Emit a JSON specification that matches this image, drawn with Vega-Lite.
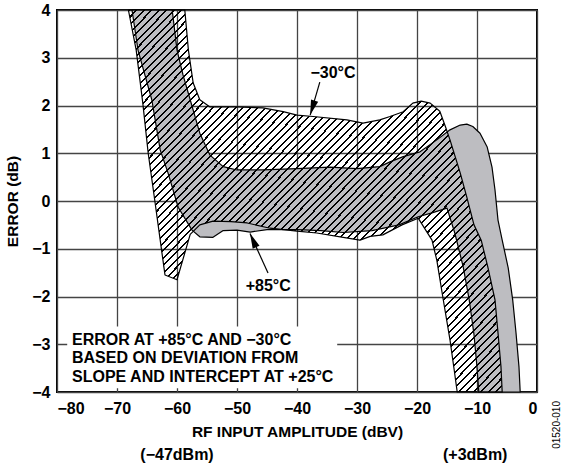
{
  "$schema": "https://vega.github.io/schema/vega-lite/v6.json",
  "width": 480,
  "height": 382,
  "autosize": {"type": "none"},
  "padding": {"left": 57, "top": 10, "right": 31, "bottom": 75},
  "background": "white",
  "config": {
    "view": {"stroke": "black", "strokeWidth": 2},
    "font": "Liberation Sans",
    "axis": {
      "grid": true,
      "gridColor": "#444444",
      "gridWidth": 1.3,
      "domain": false,
      "ticks": false,
      "labelFont": "Liberation Sans",
      "labelFontWeight": "bold",
      "labelFontSize": 16,
      "labelColor": "black",
      "titleFont": "Liberation Sans",
      "titleFontWeight": "bold",
      "titleFontSize": 15.5,
      "titleColor": "black"
    }
  },
  "datasets": {
    "box": [{"x1": -78.3, "x2": -33.3, "y1": -3.92, "y2": -2.63}],
    "p85": [
      {"i": 1, "x": -67.5, "y": 4}, {"i": 2, "x": -66.5, "y": 3.16}, {"i": 3, "x": -64.2, "y": 2.12}, {"i": 4, "x": -62.8, "y": 1.07},
      {"i": 5, "x": -61.5, "y": 0.59}, {"i": 6, "x": -59.8, "y": -0.13}, {"i": 7, "x": -57.5, "y": -0.61}, {"i": 8, "x": -56.2, "y": -0.75},
      {"i": 9, "x": -54, "y": -0.76}, {"i": 10, "x": -52.3, "y": -0.62}, {"i": 11, "x": -50, "y": -0.61}, {"i": 12, "x": -47.8, "y": -0.65},
      {"i": 13, "x": -45, "y": -0.6}, {"i": 14, "x": -40, "y": -0.6}, {"i": 15, "x": -36, "y": -0.62}, {"i": 16, "x": -32.3, "y": -0.66},
      {"i": 17, "x": -27.5, "y": -0.62}, {"i": 18, "x": -23, "y": -0.5}, {"i": 19, "x": -19.8, "y": -0.33}, {"i": 20, "x": -17.5, "y": -0.25},
      {"i": 21, "x": -15, "y": -0.15}, {"i": 22, "x": -13.7, "y": -0.67}, {"i": 23, "x": -12.3, "y": -1.38}, {"i": 24, "x": -11.3, "y": -2.07},
      {"i": 25, "x": -10.5, "y": -2.8}, {"i": 26, "x": -10, "y": -3.48}, {"i": 27, "x": -9.7, "y": -4},
      {"i": 28, "x": -2.8, "y": -4}, {"i": 29, "x": -3, "y": -3.48}, {"i": 30, "x": -3.5, "y": -2.76}, {"i": 31, "x": -4.05, "y": -2.07},
      {"i": 32, "x": -4.8, "y": -1.4}, {"i": 33, "x": -5.8, "y": -0.82}, {"i": 34, "x": -6.5, "y": -0.4}, {"i": 35, "x": -7, "y": 0.23},
      {"i": 36, "x": -7.5, "y": 0.71}, {"i": 37, "x": -8.3, "y": 1.13}, {"i": 38, "x": -9.5, "y": 1.42}, {"i": 39, "x": -10.7, "y": 1.56},
      {"i": 40, "x": -11.7, "y": 1.61}, {"i": 41, "x": -12.8, "y": 1.59}, {"i": 42, "x": -14.5, "y": 1.49}, {"i": 43, "x": -16.7, "y": 1.28},
      {"i": 44, "x": -19.5, "y": 1.03}, {"i": 45, "x": -22.3, "y": 0.93}, {"i": 46, "x": -24.5, "y": 0.82}, {"i": 47, "x": -26.2, "y": 0.72},
      {"i": 48, "x": -30, "y": 0.68}, {"i": 49, "x": -34.5, "y": 0.71}, {"i": 50, "x": -40, "y": 0.68}, {"i": 51, "x": -45.7, "y": 0.65},
      {"i": 52, "x": -50, "y": 0.65}, {"i": 53, "x": -52.3, "y": 0.72}, {"i": 54, "x": -54.5, "y": 0.96}, {"i": 55, "x": -56.2, "y": 1.42},
      {"i": 56, "x": -57.8, "y": 2.12}, {"i": 57, "x": -59, "y": 2.64}, {"i": 58, "x": -60, "y": 3.16}, {"i": 59, "x": -60.8, "y": 4},
      {"i": 60, "x": -67.5, "y": 4}
    ],
    "p30": [
      {"i": 1, "x": -68.1, "y": 4}, {"i": 2, "x": -66.8, "y": 3.16}, {"i": 3, "x": -65.7, "y": 2.05}, {"i": 4, "x": -64.8, "y": 1.0},
      {"i": 5, "x": -63.8, "y": 0.1}, {"i": 6, "x": -62.8, "y": -0.82}, {"i": 7, "x": -62.0, "y": -1.55}, {"i": 8, "x": -60.0, "y": -1.65},
      {"i": 9, "x": -57.8, "y": -0.7}, {"i": 10, "x": -56.2, "y": -0.5}, {"i": 11, "x": -54, "y": -0.42}, {"i": 12, "x": -51, "y": -0.43},
      {"i": 13, "x": -48.3, "y": -0.46}, {"i": 14, "x": -44.5, "y": -0.57}, {"i": 15, "x": -40, "y": -0.63}, {"i": 16, "x": -36.7, "y": -0.67},
      {"i": 17, "x": -32.3, "y": -0.76}, {"i": 18, "x": -29.5, "y": -0.82}, {"i": 19, "x": -27.8, "y": -0.74}, {"i": 20, "x": -25.7, "y": -0.71},
      {"i": 21, "x": -22.5, "y": -0.5}, {"i": 22, "x": -19.8, "y": -0.36}, {"i": 23, "x": -17.5, "y": -0.82}, {"i": 24, "x": -16.7, "y": -1.24},
      {"i": 25, "x": -15.7, "y": -2.01}, {"i": 26, "x": -14.5, "y": -2.91}, {"i": 27, "x": -13.8, "y": -3.54}, {"i": 28, "x": -13.3, "y": -4},
      {"i": 29, "x": -5.8, "y": -4}, {"i": 30, "x": -6, "y": -3.48}, {"i": 31, "x": -6.5, "y": -2.76}, {"i": 32, "x": -7, "y": -2.07},
      {"i": 33, "x": -8.2, "y": -1.38}, {"i": 34, "x": -9.3, "y": -0.82}, {"i": 35, "x": -10.5, "y": -0.5}, {"i": 36, "x": -11.7, "y": 0.08},
      {"i": 37, "x": -12.8, "y": 0.59}, {"i": 38, "x": -14.5, "y": 1.28}, {"i": 39, "x": -15.3, "y": 1.57}, {"i": 40, "x": -16.2, "y": 1.88},
      {"i": 41, "x": -17.8, "y": 2.05}, {"i": 42, "x": -19.3, "y": 2.09}, {"i": 43, "x": -20.7, "y": 2.05}, {"i": 44, "x": -22.3, "y": 1.87},
      {"i": 45, "x": -24.5, "y": 1.77}, {"i": 46, "x": -26.2, "y": 1.7}, {"i": 47, "x": -29, "y": 1.63}, {"i": 48, "x": -31.7, "y": 1.7},
      {"i": 49, "x": -37.3, "y": 1.77}, {"i": 50, "x": -40, "y": 1.8}, {"i": 51, "x": -42.3, "y": 1.87}, {"i": 52, "x": -45.7, "y": 1.95},
      {"i": 53, "x": -50, "y": 1.97}, {"i": 54, "x": -54.5, "y": 1.97}, {"i": 55, "x": -56.2, "y": 2.12}, {"i": 56, "x": -57.3, "y": 2.47},
      {"i": 57, "x": -58.1, "y": 3.16}, {"i": 58, "x": -58.7, "y": 4}, {"i": 59, "x": -68.1, "y": 4}
    ],
    "arrows": [
      {"label": "-30", "x": -36.2, "y": 2.49, "x2": -37.8, "y2": 1.8, "angle": 197},
      {"label": "+85", "x": -44.83, "y": -1.51, "x2": -47.83, "y2": -0.68, "angle": 336}
    ],
    "notes": [
      {"text": "−30°C", "x": -34, "y": 2.68},
      {"text": "+85°C", "x": -44.8, "y": -1.78},
      {"text": "(−47dBm)", "x": -60, "y": -5.32},
      {"text": "(+3dBm)", "x": -10.3, "y": -5.32}
    ],
    "boxtext": [
      {"text": "ERROR AT +85°C AND −30°C", "x": -77.5, "y": -2.91},
      {"text": "BASED ON DEVIATION FROM", "x": -77.5, "y": -3.29},
      {"text": "SLOPE AND INTERCEPT AT +25°C", "x": -77.5, "y": -3.68}
    ],
    "code": [{"text": "01520-010", "x": 3.33, "y": -4.69}]
  },
  "layer": [
    {
      "data": {"name": "box"},
      "mark": {"type": "rect", "fill": "white", "stroke": null},
      "encoding": {
        "x": {"field": "x1", "type": "quantitative", "scale": {"domain": [-80, 0], "nice": false, "zero": false},
              "axis": {"values": [-80, -70, -60, -50, -40, -30, -20, -10, 0], "title": "RF INPUT AMPLITUDE (dBV)", "labelPadding": 8, "titlePadding": 8}},
        "x2": {"field": "x2"},
        "y": {"field": "y1", "type": "quantitative", "scale": {"domain": [-4, 4], "nice": false, "zero": false},
              "axis": {"values": [-4, -3, -2, -1, 0, 1, 2, 3, 4], "title": "ERROR (dB)", "labelPadding": 7, "titlePadding": 11}},
        "y2": {"field": "y2"}
      }
    },
    {
      "data": {"name": "p85"},
      "mark": {"type": "line", "fill": "#bdbdc1", "stroke": "black", "strokeWidth": 1.2, "strokeJoin": "round"},
      "encoding": {
        "x": {"field": "x", "type": "quantitative"},
        "y": {"field": "y", "type": "quantitative"},
        "order": {"field": "i", "type": "quantitative"}
      }
    },
    {
      "data": {"name": "p30"},
      "mark": {
        "type": "line", "stroke": "black", "strokeWidth": 1.2, "strokeJoin": "round",
        "fill": {
          "gradient": "linear", "x1": 0, "y1": 0, "x2": 1, "y2": 1,
          "stops": [
{"offset":0,"color":"black"},{"offset":0.0027,"color":"black"},{"offset":0.0027,"color":"transparent"},{"offset":0.01,"color":"transparent"},
{"offset":0.01,"color":"black"},{"offset":0.0127,"color":"black"},{"offset":0.0127,"color":"transparent"},{"offset":0.02,"color":"transparent"},
{"offset":0.02,"color":"black"},{"offset":0.0227,"color":"black"},{"offset":0.0227,"color":"transparent"},{"offset":0.03,"color":"transparent"},
{"offset":0.03,"color":"black"},{"offset":0.0327,"color":"black"},{"offset":0.0327,"color":"transparent"},{"offset":0.04,"color":"transparent"},
{"offset":0.04,"color":"black"},{"offset":0.0427,"color":"black"},{"offset":0.0427,"color":"transparent"},{"offset":0.05,"color":"transparent"},
{"offset":0.05,"color":"black"},{"offset":0.0527,"color":"black"},{"offset":0.0527,"color":"transparent"},{"offset":0.06,"color":"transparent"},
{"offset":0.06,"color":"black"},{"offset":0.0627,"color":"black"},{"offset":0.0627,"color":"transparent"},{"offset":0.07,"color":"transparent"},
{"offset":0.07,"color":"black"},{"offset":0.0727,"color":"black"},{"offset":0.0727,"color":"transparent"},{"offset":0.08,"color":"transparent"},
{"offset":0.08,"color":"black"},{"offset":0.0827,"color":"black"},{"offset":0.0827,"color":"transparent"},{"offset":0.09,"color":"transparent"},
{"offset":0.09,"color":"black"},{"offset":0.0927,"color":"black"},{"offset":0.0927,"color":"transparent"},{"offset":0.1,"color":"transparent"},
{"offset":0.1,"color":"black"},{"offset":0.1027,"color":"black"},{"offset":0.1027,"color":"transparent"},{"offset":0.11,"color":"transparent"},
{"offset":0.11,"color":"black"},{"offset":0.1127,"color":"black"},{"offset":0.1127,"color":"transparent"},{"offset":0.12,"color":"transparent"},
{"offset":0.12,"color":"black"},{"offset":0.1227,"color":"black"},{"offset":0.1227,"color":"transparent"},{"offset":0.13,"color":"transparent"},
{"offset":0.13,"color":"black"},{"offset":0.1327,"color":"black"},{"offset":0.1327,"color":"transparent"},{"offset":0.14,"color":"transparent"},
{"offset":0.14,"color":"black"},{"offset":0.1427,"color":"black"},{"offset":0.1427,"color":"transparent"},{"offset":0.15,"color":"transparent"},
{"offset":0.15,"color":"black"},{"offset":0.1527,"color":"black"},{"offset":0.1527,"color":"transparent"},{"offset":0.16,"color":"transparent"},
{"offset":0.16,"color":"black"},{"offset":0.1627,"color":"black"},{"offset":0.1627,"color":"transparent"},{"offset":0.17,"color":"transparent"},
{"offset":0.17,"color":"black"},{"offset":0.1727,"color":"black"},{"offset":0.1727,"color":"transparent"},{"offset":0.18,"color":"transparent"},
{"offset":0.18,"color":"black"},{"offset":0.1827,"color":"black"},{"offset":0.1827,"color":"transparent"},{"offset":0.19,"color":"transparent"},
{"offset":0.19,"color":"black"},{"offset":0.1927,"color":"black"},{"offset":0.1927,"color":"transparent"},{"offset":0.2,"color":"transparent"},
{"offset":0.2,"color":"black"},{"offset":0.2027,"color":"black"},{"offset":0.2027,"color":"transparent"},{"offset":0.21,"color":"transparent"},
{"offset":0.21,"color":"black"},{"offset":0.2127,"color":"black"},{"offset":0.2127,"color":"transparent"},{"offset":0.22,"color":"transparent"},
{"offset":0.22,"color":"black"},{"offset":0.2227,"color":"black"},{"offset":0.2227,"color":"transparent"},{"offset":0.23,"color":"transparent"},
{"offset":0.23,"color":"black"},{"offset":0.2327,"color":"black"},{"offset":0.2327,"color":"transparent"},{"offset":0.24,"color":"transparent"},
{"offset":0.24,"color":"black"},{"offset":0.2427,"color":"black"},{"offset":0.2427,"color":"transparent"},{"offset":0.25,"color":"transparent"},
{"offset":0.25,"color":"black"},{"offset":0.2527,"color":"black"},{"offset":0.2527,"color":"transparent"},{"offset":0.26,"color":"transparent"},
{"offset":0.26,"color":"black"},{"offset":0.2627,"color":"black"},{"offset":0.2627,"color":"transparent"},{"offset":0.27,"color":"transparent"},
{"offset":0.27,"color":"black"},{"offset":0.2727,"color":"black"},{"offset":0.2727,"color":"transparent"},{"offset":0.28,"color":"transparent"},
{"offset":0.28,"color":"black"},{"offset":0.2827,"color":"black"},{"offset":0.2827,"color":"transparent"},{"offset":0.29,"color":"transparent"},
{"offset":0.29,"color":"black"},{"offset":0.2927,"color":"black"},{"offset":0.2927,"color":"transparent"},{"offset":0.3,"color":"transparent"},
{"offset":0.3,"color":"black"},{"offset":0.3027,"color":"black"},{"offset":0.3027,"color":"transparent"},{"offset":0.31,"color":"transparent"},
{"offset":0.31,"color":"black"},{"offset":0.3127,"color":"black"},{"offset":0.3127,"color":"transparent"},{"offset":0.32,"color":"transparent"},
{"offset":0.32,"color":"black"},{"offset":0.3227,"color":"black"},{"offset":0.3227,"color":"transparent"},{"offset":0.33,"color":"transparent"},
{"offset":0.33,"color":"black"},{"offset":0.3327,"color":"black"},{"offset":0.3327,"color":"transparent"},{"offset":0.34,"color":"transparent"},
{"offset":0.34,"color":"black"},{"offset":0.3427,"color":"black"},{"offset":0.3427,"color":"transparent"},{"offset":0.35,"color":"transparent"},
{"offset":0.35,"color":"black"},{"offset":0.3527,"color":"black"},{"offset":0.3527,"color":"transparent"},{"offset":0.36,"color":"transparent"},
{"offset":0.36,"color":"black"},{"offset":0.3627,"color":"black"},{"offset":0.3627,"color":"transparent"},{"offset":0.37,"color":"transparent"},
{"offset":0.37,"color":"black"},{"offset":0.3727,"color":"black"},{"offset":0.3727,"color":"transparent"},{"offset":0.38,"color":"transparent"},
{"offset":0.38,"color":"black"},{"offset":0.3827,"color":"black"},{"offset":0.3827,"color":"transparent"},{"offset":0.39,"color":"transparent"},
{"offset":0.39,"color":"black"},{"offset":0.3927,"color":"black"},{"offset":0.3927,"color":"transparent"},{"offset":0.4,"color":"transparent"},
{"offset":0.4,"color":"black"},{"offset":0.4027,"color":"black"},{"offset":0.4027,"color":"transparent"},{"offset":0.41,"color":"transparent"},
{"offset":0.41,"color":"black"},{"offset":0.4127,"color":"black"},{"offset":0.4127,"color":"transparent"},{"offset":0.42,"color":"transparent"},
{"offset":0.42,"color":"black"},{"offset":0.4227,"color":"black"},{"offset":0.4227,"color":"transparent"},{"offset":0.43,"color":"transparent"},
{"offset":0.43,"color":"black"},{"offset":0.4327,"color":"black"},{"offset":0.4327,"color":"transparent"},{"offset":0.44,"color":"transparent"},
{"offset":0.44,"color":"black"},{"offset":0.4427,"color":"black"},{"offset":0.4427,"color":"transparent"},{"offset":0.45,"color":"transparent"},
{"offset":0.45,"color":"black"},{"offset":0.4527,"color":"black"},{"offset":0.4527,"color":"transparent"},{"offset":0.46,"color":"transparent"},
{"offset":0.46,"color":"black"},{"offset":0.4627,"color":"black"},{"offset":0.4627,"color":"transparent"},{"offset":0.47,"color":"transparent"},
{"offset":0.47,"color":"black"},{"offset":0.4727,"color":"black"},{"offset":0.4727,"color":"transparent"},{"offset":0.48,"color":"transparent"},
{"offset":0.48,"color":"black"},{"offset":0.4827,"color":"black"},{"offset":0.4827,"color":"transparent"},{"offset":0.49,"color":"transparent"},
{"offset":0.49,"color":"black"},{"offset":0.4927,"color":"black"},{"offset":0.4927,"color":"transparent"},{"offset":0.5,"color":"transparent"},
{"offset":0.5,"color":"black"},{"offset":0.5027,"color":"black"},{"offset":0.5027,"color":"transparent"},{"offset":0.51,"color":"transparent"},
{"offset":0.51,"color":"black"},{"offset":0.5127,"color":"black"},{"offset":0.5127,"color":"transparent"},{"offset":0.52,"color":"transparent"},
{"offset":0.52,"color":"black"},{"offset":0.5227,"color":"black"},{"offset":0.5227,"color":"transparent"},{"offset":0.53,"color":"transparent"},
{"offset":0.53,"color":"black"},{"offset":0.5327,"color":"black"},{"offset":0.5327,"color":"transparent"},{"offset":0.54,"color":"transparent"},
{"offset":0.54,"color":"black"},{"offset":0.5427,"color":"black"},{"offset":0.5427,"color":"transparent"},{"offset":0.55,"color":"transparent"},
{"offset":0.55,"color":"black"},{"offset":0.5527,"color":"black"},{"offset":0.5527,"color":"transparent"},{"offset":0.56,"color":"transparent"},
{"offset":0.56,"color":"black"},{"offset":0.5627,"color":"black"},{"offset":0.5627,"color":"transparent"},{"offset":0.57,"color":"transparent"},
{"offset":0.57,"color":"black"},{"offset":0.5727,"color":"black"},{"offset":0.5727,"color":"transparent"},{"offset":0.58,"color":"transparent"},
{"offset":0.58,"color":"black"},{"offset":0.5827,"color":"black"},{"offset":0.5827,"color":"transparent"},{"offset":0.59,"color":"transparent"},
{"offset":0.59,"color":"black"},{"offset":0.5927,"color":"black"},{"offset":0.5927,"color":"transparent"},{"offset":0.6,"color":"transparent"},
{"offset":0.6,"color":"black"},{"offset":0.6027,"color":"black"},{"offset":0.6027,"color":"transparent"},{"offset":0.61,"color":"transparent"},
{"offset":0.61,"color":"black"},{"offset":0.6127,"color":"black"},{"offset":0.6127,"color":"transparent"},{"offset":0.62,"color":"transparent"},
{"offset":0.62,"color":"black"},{"offset":0.6227,"color":"black"},{"offset":0.6227,"color":"transparent"},{"offset":0.63,"color":"transparent"},
{"offset":0.63,"color":"black"},{"offset":0.6327,"color":"black"},{"offset":0.6327,"color":"transparent"},{"offset":0.64,"color":"transparent"},
{"offset":0.64,"color":"black"},{"offset":0.6427,"color":"black"},{"offset":0.6427,"color":"transparent"},{"offset":0.65,"color":"transparent"},
{"offset":0.65,"color":"black"},{"offset":0.6527,"color":"black"},{"offset":0.6527,"color":"transparent"},{"offset":0.66,"color":"transparent"},
{"offset":0.66,"color":"black"},{"offset":0.6627,"color":"black"},{"offset":0.6627,"color":"transparent"},{"offset":0.67,"color":"transparent"},
{"offset":0.67,"color":"black"},{"offset":0.6727,"color":"black"},{"offset":0.6727,"color":"transparent"},{"offset":0.68,"color":"transparent"},
{"offset":0.68,"color":"black"},{"offset":0.6827,"color":"black"},{"offset":0.6827,"color":"transparent"},{"offset":0.69,"color":"transparent"},
{"offset":0.69,"color":"black"},{"offset":0.6927,"color":"black"},{"offset":0.6927,"color":"transparent"},{"offset":0.7,"color":"transparent"},
{"offset":0.7,"color":"black"},{"offset":0.7027,"color":"black"},{"offset":0.7027,"color":"transparent"},{"offset":0.71,"color":"transparent"},
{"offset":0.71,"color":"black"},{"offset":0.7127,"color":"black"},{"offset":0.7127,"color":"transparent"},{"offset":0.72,"color":"transparent"},
{"offset":0.72,"color":"black"},{"offset":0.7227,"color":"black"},{"offset":0.7227,"color":"transparent"},{"offset":0.73,"color":"transparent"},
{"offset":0.73,"color":"black"},{"offset":0.7327,"color":"black"},{"offset":0.7327,"color":"transparent"},{"offset":0.74,"color":"transparent"},
{"offset":0.74,"color":"black"},{"offset":0.7427,"color":"black"},{"offset":0.7427,"color":"transparent"},{"offset":0.75,"color":"transparent"},
{"offset":0.75,"color":"black"},{"offset":0.7527,"color":"black"},{"offset":0.7527,"color":"transparent"},{"offset":0.76,"color":"transparent"},
{"offset":0.76,"color":"black"},{"offset":0.7627,"color":"black"},{"offset":0.7627,"color":"transparent"},{"offset":0.77,"color":"transparent"},
{"offset":0.77,"color":"black"},{"offset":0.7727,"color":"black"},{"offset":0.7727,"color":"transparent"},{"offset":0.78,"color":"transparent"},
{"offset":0.78,"color":"black"},{"offset":0.7827,"color":"black"},{"offset":0.7827,"color":"transparent"},{"offset":0.79,"color":"transparent"},
{"offset":0.79,"color":"black"},{"offset":0.7927,"color":"black"},{"offset":0.7927,"color":"transparent"},{"offset":0.8,"color":"transparent"},
{"offset":0.8,"color":"black"},{"offset":0.8027,"color":"black"},{"offset":0.8027,"color":"transparent"},{"offset":0.81,"color":"transparent"},
{"offset":0.81,"color":"black"},{"offset":0.8127,"color":"black"},{"offset":0.8127,"color":"transparent"},{"offset":0.82,"color":"transparent"},
{"offset":0.82,"color":"black"},{"offset":0.8227,"color":"black"},{"offset":0.8227,"color":"transparent"},{"offset":0.83,"color":"transparent"},
{"offset":0.83,"color":"black"},{"offset":0.8327,"color":"black"},{"offset":0.8327,"color":"transparent"},{"offset":0.84,"color":"transparent"},
{"offset":0.84,"color":"black"},{"offset":0.8427,"color":"black"},{"offset":0.8427,"color":"transparent"},{"offset":0.85,"color":"transparent"},
{"offset":0.85,"color":"black"},{"offset":0.8527,"color":"black"},{"offset":0.8527,"color":"transparent"},{"offset":0.86,"color":"transparent"},
{"offset":0.86,"color":"black"},{"offset":0.8627,"color":"black"},{"offset":0.8627,"color":"transparent"},{"offset":0.87,"color":"transparent"},
{"offset":0.87,"color":"black"},{"offset":0.8727,"color":"black"},{"offset":0.8727,"color":"transparent"},{"offset":0.88,"color":"transparent"},
{"offset":0.88,"color":"black"},{"offset":0.8827,"color":"black"},{"offset":0.8827,"color":"transparent"},{"offset":0.89,"color":"transparent"},
{"offset":0.89,"color":"black"},{"offset":0.8927,"color":"black"},{"offset":0.8927,"color":"transparent"},{"offset":0.9,"color":"transparent"},
{"offset":0.9,"color":"black"},{"offset":0.9027,"color":"black"},{"offset":0.9027,"color":"transparent"},{"offset":0.91,"color":"transparent"},
{"offset":0.91,"color":"black"},{"offset":0.9127,"color":"black"},{"offset":0.9127,"color":"transparent"},{"offset":0.92,"color":"transparent"},
{"offset":0.92,"color":"black"},{"offset":0.9227,"color":"black"},{"offset":0.9227,"color":"transparent"},{"offset":0.93,"color":"transparent"},
{"offset":0.93,"color":"black"},{"offset":0.9327,"color":"black"},{"offset":0.9327,"color":"transparent"},{"offset":0.94,"color":"transparent"},
{"offset":0.94,"color":"black"},{"offset":0.9427,"color":"black"},{"offset":0.9427,"color":"transparent"},{"offset":0.95,"color":"transparent"},
{"offset":0.95,"color":"black"},{"offset":0.9527,"color":"black"},{"offset":0.9527,"color":"transparent"},{"offset":0.96,"color":"transparent"},
{"offset":0.96,"color":"black"},{"offset":0.9627,"color":"black"},{"offset":0.9627,"color":"transparent"},{"offset":0.97,"color":"transparent"},
{"offset":0.97,"color":"black"},{"offset":0.9727,"color":"black"},{"offset":0.9727,"color":"transparent"},{"offset":0.98,"color":"transparent"},
{"offset":0.98,"color":"black"},{"offset":0.9827,"color":"black"},{"offset":0.9827,"color":"transparent"},{"offset":0.99,"color":"transparent"},
{"offset":0.99,"color":"black"},{"offset":0.9927,"color":"black"},{"offset":0.9927,"color":"transparent"},{"offset":1,"color":"transparent"}
          ]
        }
      },
      "encoding": {
        "x": {"field": "x", "type": "quantitative"},
        "y": {"field": "y", "type": "quantitative"},
        "order": {"field": "i", "type": "quantitative"}
      }
    },
    {
      "data": {"name": "arrows"},
      "mark": {"type": "rule", "color": "black", "strokeWidth": 1.2},
      "encoding": {
        "x": {"field": "x", "type": "quantitative"},
        "y": {"field": "y", "type": "quantitative"},
        "x2": {"field": "x2"},
        "y2": {"field": "y2"}
      }
    },
    {
      "data": {"name": "arrows"},
      "mark": {"type": "point", "shape": "M0,0L0.5,2L-0.5,2Z", "filled": true, "color": "black", "size": 225, "opacity": 1},
      "encoding": {
        "x": {"field": "x2", "type": "quantitative"},
        "y": {"field": "y2", "type": "quantitative"},
        "angle": {"field": "angle", "type": "quantitative", "scale": null}
      }
    },
    {
      "data": {"name": "notes"},
      "mark": {"type": "text", "font": "Liberation Sans", "fontWeight": "bold", "fontSize": 16, "align": "center", "baseline": "middle", "color": "black"},
      "encoding": {
        "x": {"field": "x", "type": "quantitative"},
        "y": {"field": "y", "type": "quantitative"},
        "text": {"field": "text"}
      }
    },
    {
      "data": {"name": "boxtext"},
      "mark": {"type": "text", "font": "Liberation Sans", "fontWeight": "bold", "fontSize": 16, "align": "left", "baseline": "middle", "color": "black"},
      "encoding": {
        "x": {"field": "x", "type": "quantitative"},
        "y": {"field": "y", "type": "quantitative"},
        "text": {"field": "text"}
      }
    },
    {
      "data": {"name": "code"},
      "mark": {"type": "text", "font": "Liberation Sans", "fontSize": 10, "align": "center", "baseline": "middle", "angle": 270, "color": "black"},
      "encoding": {
        "x": {"field": "x", "type": "quantitative"},
        "y": {"field": "y", "type": "quantitative"},
        "text": {"field": "text"}
      }
    }
  ]
}
